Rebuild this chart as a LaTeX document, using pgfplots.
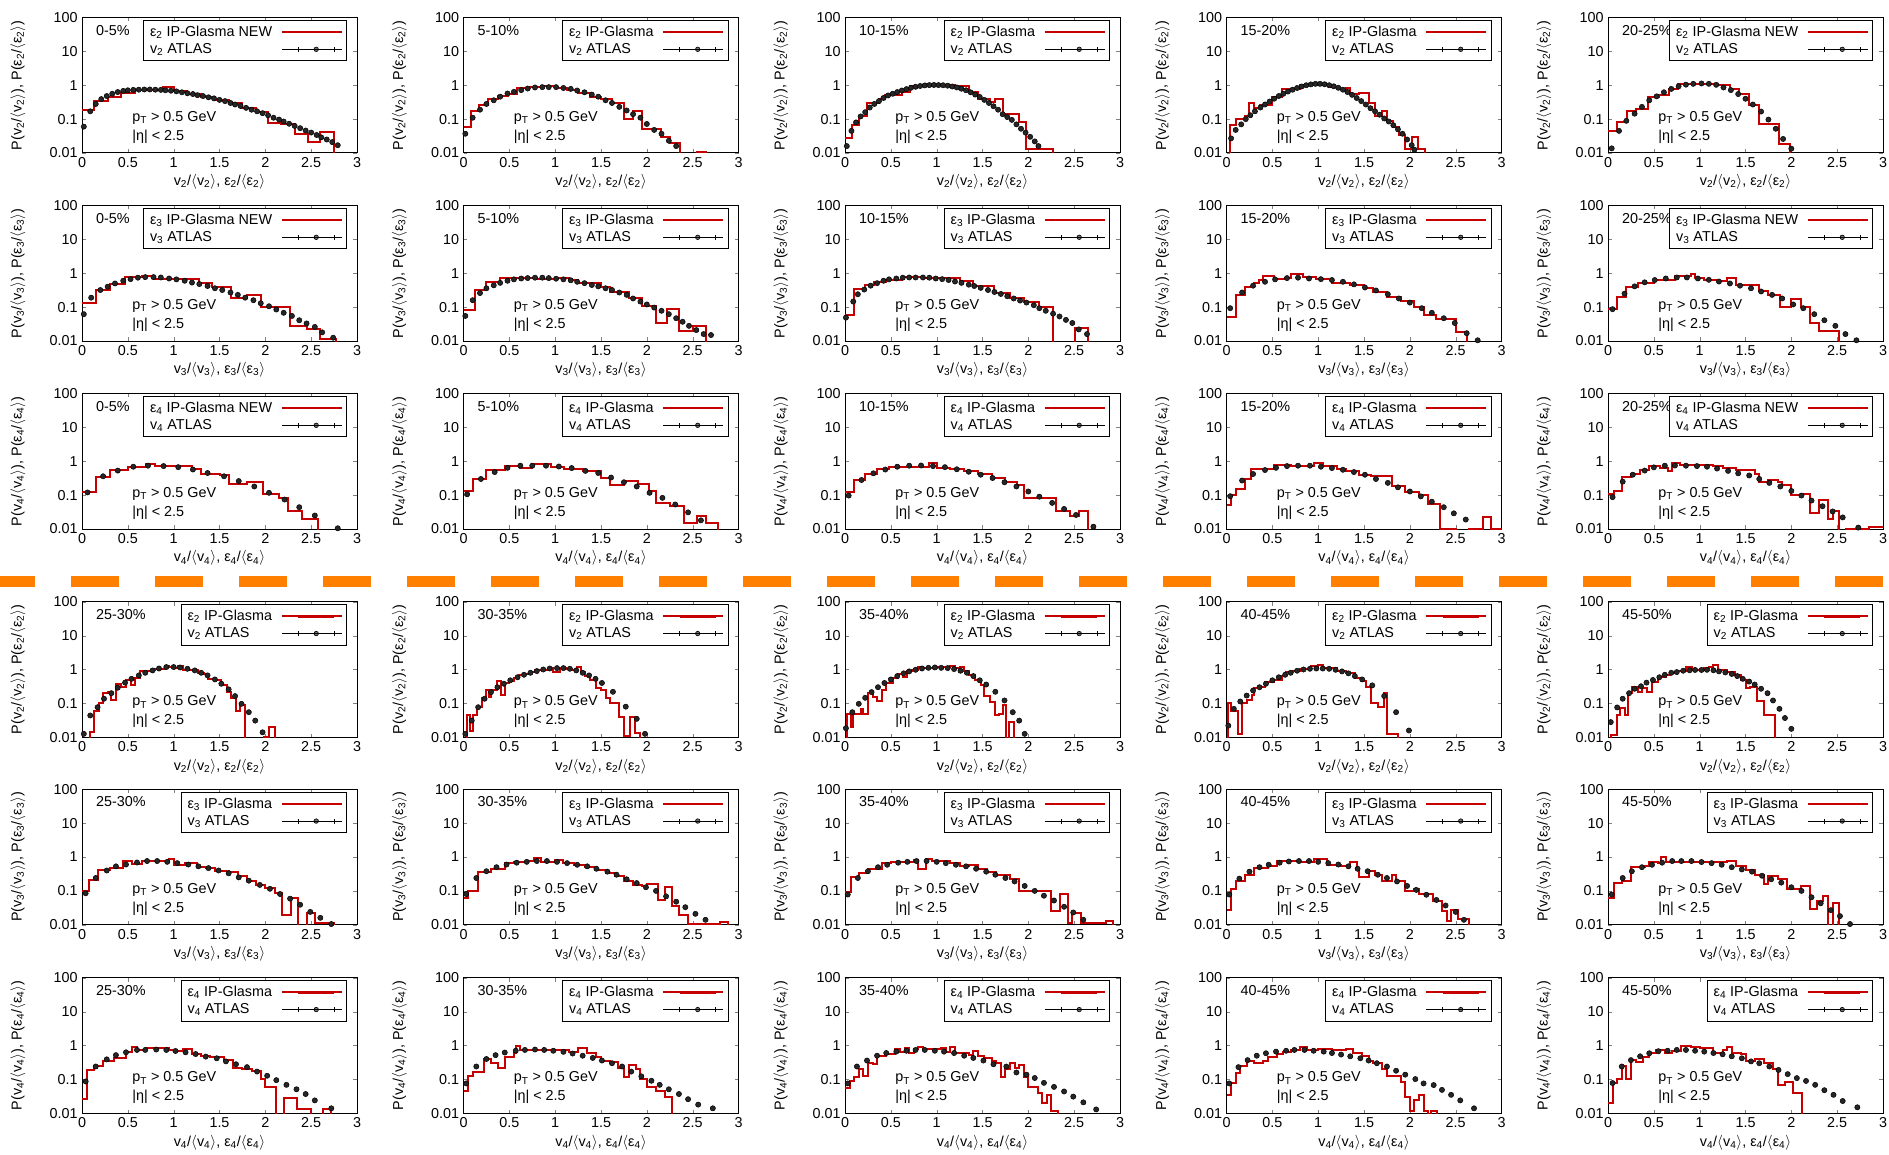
\documentclass[border=0pt,10pt]{standalone}
\usepackage{fontspec}
\setmainfont{Liberation Sans}
\usepackage{pgfplots}
\pgfplotsset{compat=1.18}
\definecolor{hred}{RGB}{198,0,0}
\definecolor{dashorange}{RGB}{255,128,0}
\newcommand{\fnt}{\fontsize{11.5}{13}\selectfont}
\newcommand{\gp}{\hspace*{5pt}}
\newcommand{\xl}[1]{v\textsubscript{#1}/$\langle$v\textsubscript{#1}$\rangle$, ε\textsubscript{#1}/$\langle$ε\textsubscript{#1}$\rangle$}
\newcommand{\yl}[1]{P(v\textsubscript{#1}/$\langle$v\textsubscript{#1}$\rangle$), P(ε\textsubscript{#1}/$\langle$ε\textsubscript{#1}$\rangle$)}
\newcommand{\annot}[1]{%
\node[anchor=base west,font=\fnt] at (rel axis cs:0.035,0.87) {#1};
\node[anchor=base west,font=\fnt] at (rel axis cs:0.167,0.231) {p\textsubscript{T} > 0.5 GeV};
\node[anchor=base west,font=\fnt] at (rel axis cs:0.167,0.091) {|η| < 2.5};}
\pgfplotsset{every axis/.append style={anchor=north west,
 width=220pt,height=108.4pt,scale only axis,
 xmin=0,xmax=3,ymin=0.01,ymax=100,
 xtick={0,0.5,1,1.5,2,2.5,3},xticklabels={0,0.5,1,1.5,2,2.5,3},
 ytick={0.01,0.1,1,10,100},yticklabels={0.01,0.1,1,10,100},
 yminorticks=false,
 tick align=inside,major tick length=3pt,
 axis line style={line width=0.8pt},
 tick label style={font=\fnt},
 label style={font=\fnt},
 xlabel style={at={(axis description cs:0.5,-0.214)},anchor=center},
 ylabel style={at={(axis description cs:-0.233,0.5)},anchor=center},
 legend cell align=left,legend plot pos=right,
 legend style={at={(rel axis cs:0.964,0.982)},anchor=north east,draw=black,line width=0.8pt,fill=white,font=\fnt,inner ysep=2.5pt}}}
\pgfplotsset{histo/.style={hred,line width=1.6pt,const plot mark left,
  legend image code/.code={\draw[hred,line width=1.8pt] (0pt,0pt)--(29pt,0pt);\path (-13pt,0pt)--(35pt,0pt);}},
 atlas/.style={black,only marks,mark=*,mark size=2.1pt,mark options={fill=black!85},
  legend image code/.code={\draw[black,line width=0.6pt] (0pt,0pt)--(29pt,0pt) (0pt,-2pt)--(0pt,2pt) (29pt,-2pt)--(29pt,2pt);\filldraw[fill=black!55,draw=black,line width=0.5pt] (14.5pt,0pt) circle (1.8pt);\path (-13pt,0pt)--(35pt,0pt);}}}
\begin{document}
\begin{tikzpicture}
\useasboundingbox (0pt,0pt) rectangle (1511.2pt,-923.2pt);
% ---------------- Row 1: v2, 0-25%
\begin{semilogyaxis}[at={(65.6pt,-14pt)},xlabel={\xl{2}},ylabel={\yl{2}}]
\addplot[histo] coordinates {(0,0.19)(0.13,0.34)(0.28,0.45)(0.43,0.6)(0.58,0.72)(0.88,0.86)(1.0,0.68)(1.15,0.57)(1.3,0.46)(1.45,0.37)(1.6,0.3)(1.75,0.21)(1.9,0.16)(2.03,0.076)(2.17,0.07)(2.32,0.036)(2.47,0.021)(2.6,0.042)(2.75,0.001)};
\addlegendentry{ε\textsubscript{2} IP-Glasma NEW\gp}
\addplot[atlas] coordinates {(0.02,0.06)(0.09,0.17)(0.15,0.28)(0.21,0.39)(0.27,0.48)(0.33,0.56)(0.39,0.63)(0.45,0.68)(0.5,0.71)(0.56,0.73)(0.62,0.74)(0.68,0.75)(0.74,0.75)(0.8,0.74)(0.86,0.73)(0.91,0.71)(0.97,0.69)(1.03,0.66)(1.09,0.62)(1.15,0.58)(1.21,0.55)(1.26,0.51)(1.32,0.48)(1.38,0.44)(1.44,0.41)(1.5,0.37)(1.56,0.34)(1.62,0.3)(1.67,0.27)(1.73,0.245)(1.79,0.215)(1.85,0.19)(1.91,0.17)(1.97,0.15)(2.03,0.13)(2.09,0.11)(2.15,0.097)(2.2,0.085)(2.26,0.073)(2.32,0.063)(2.38,0.054)(2.44,0.046)(2.5,0.04)(2.56,0.034)(2.61,0.029)(2.67,0.025)(2.73,0.021)(2.79,0.017)};
\addlegendentry{v\textsubscript{2} ATLAS}
\annot{0-5\%}
\end{semilogyaxis}
\begin{semilogyaxis}[at={(370.8pt,-14pt)},xlabel={\xl{2}},ylabel={\yl{2}}]
\addplot[histo] coordinates {(0,0.06)(0.08,0.17)(0.17,0.27)(0.27,0.4)(0.38,0.47)(0.48,0.55)(0.58,0.82)(0.72,0.86)(0.86,0.92)(1.0,0.85)(1.13,0.72)(1.25,0.6)(1.38,0.46)(1.5,0.38)(1.62,0.3)(1.75,0.1)(1.85,0.17)(1.95,0.05)(2.15,0.03)(2.25,0.02)(2.36,0.001)(2.55,0.0104)(2.65,0.001)};
\addlegendentry{ε\textsubscript{2} IP-Glasma\gp}
\addplot[atlas] coordinates {(0.02,0.037)(0.1,0.11)(0.18,0.19)(0.25,0.28)(0.33,0.36)(0.4,0.46)(0.48,0.57)(0.55,0.64)(0.63,0.72)(0.7,0.8)(0.78,0.86)(0.86,0.88)(0.93,0.88)(1.01,0.88)(1.09,0.83)(1.17,0.78)(1.24,0.7)(1.32,0.62)(1.4,0.53)(1.47,0.46)(1.55,0.36)(1.62,0.3)(1.7,0.23)(1.78,0.18)(1.85,0.14)(1.93,0.11)(2.0,0.072)(2.08,0.048)(2.16,0.037)(2.24,0.023)(2.32,0.016)};
\addlegendentry{v\textsubscript{2} ATLAS}
\annot{5-10\%}
\end{semilogyaxis}
\begin{semilogyaxis}[at={(676pt,-14pt)},xlabel={\xl{2}},ylabel={\yl{2}}]
\addplot[histo] coordinates {(0,0.027)(0.08,0.065)(0.15,0.12)(0.24,0.3)(0.37,0.4)(0.44,0.5)(0.52,0.5)(0.62,0.65)(0.71,0.95)(0.85,1.0)(1.2,0.95)(1.35,0.62)(1.45,0.4)(1.58,0.32)(1.64,0.4)(1.72,0.14)(1.8,0.14)(1.9,0.085)(1.97,0.013)(2.27,0.001)};
\addlegendentry{ε\textsubscript{2} IP-Glasma\gp}
\addplot[atlas] coordinates {(0.02,0.016)(0.07,0.045)(0.12,0.08)(0.17,0.12)(0.22,0.16)(0.27,0.22)(0.32,0.28)(0.37,0.34)(0.42,0.42)(0.47,0.5)(0.52,0.56)(0.57,0.63)(0.62,0.7)(0.67,0.77)(0.72,0.84)(0.77,0.9)(0.82,0.95)(0.87,0.99)(0.92,1.01)(0.97,1.02)(1.02,1.01)(1.07,1.0)(1.12,0.97)(1.17,0.92)(1.22,0.86)(1.27,0.79)(1.32,0.71)(1.37,0.62)(1.42,0.53)(1.47,0.45)(1.52,0.37)(1.57,0.3)(1.62,0.24)(1.67,0.19)(1.72,0.14)(1.77,0.115)(1.82,0.095)(1.87,0.07)(1.92,0.052)(1.97,0.04)(2.02,0.03)(2.07,0.022)(2.11,0.016)};
\addlegendentry{v\textsubscript{2} ATLAS}
\annot{10-15\%}
\end{semilogyaxis}
\begin{semilogyaxis}[at={(981.2pt,-14pt)},xlabel={\xl{2}},ylabel={\yl{2}}]
\addplot[histo] coordinates {(0,0.001)(0.04,0.065)(0.1,0.1)(0.2,0.12)(0.24,0.3)(0.3,0.22)(0.36,0.27)(0.5,0.45)(0.6,0.8)(0.7,0.75)(0.8,1.0)(1.0,1.05)(1.12,0.9)(1.2,0.8)(1.3,0.85)(1.35,0.55)(1.45,0.6)(1.55,0.3)(1.62,0.12)(1.7,0.17)(1.75,0.09)(1.82,0.06)(1.88,0.035)(1.95,0.013)(2.02,0.03)(2.09,0.013)(2.17,0.001)};
\addlegendentry{ε\textsubscript{2} IP-Glasma\gp}
\addplot[atlas] coordinates {(0.05,0.027)(0.1,0.048)(0.16,0.07)(0.21,0.1)(0.26,0.13)(0.31,0.17)(0.37,0.22)(0.42,0.27)(0.47,0.33)(0.52,0.4)(0.57,0.48)(0.62,0.56)(0.67,0.65)(0.72,0.74)(0.77,0.83)(0.82,0.92)(0.87,1.0)(0.92,1.06)(0.97,1.1)(1.02,1.1)(1.07,1.07)(1.12,1.0)(1.17,0.93)(1.22,0.84)(1.27,0.74)(1.32,0.63)(1.37,0.52)(1.42,0.42)(1.47,0.34)(1.52,0.27)(1.57,0.21)(1.62,0.17)(1.67,0.135)(1.72,0.105)(1.77,0.085)(1.82,0.066)(1.87,0.05)(1.92,0.037)(1.97,0.025)(2.02,0.017)(2.05,0.0125)};
\addlegendentry{v\textsubscript{2} ATLAS}
\annot{15-20\%}
\end{semilogyaxis}
\begin{semilogyaxis}[at={(1286.4pt,-14pt)},xlabel={\xl{2}},ylabel={\yl{2}}]
\addplot[histo] coordinates {(0,0.045)(0.1,0.085)(0.21,0.17)(0.31,0.2)(0.44,0.45)(0.56,0.5)(0.67,0.8)(0.76,1.1)(1.2,1.05)(1.33,0.75)(1.43,0.55)(1.54,0.27)(1.65,0.07)(1.87,0.018)(1.98,0.001)};
\addlegendentry{ε\textsubscript{2} IP-Glasma NEW\gp}
\addplot[atlas] coordinates {(0.04,0.0137)(0.12,0.045)(0.2,0.089)(0.29,0.145)(0.37,0.23)(0.45,0.36)(0.53,0.47)(0.61,0.62)(0.69,0.78)(0.77,0.93)(0.85,1.04)(0.93,1.1)(1.02,1.13)(1.1,1.1)(1.18,1.03)(1.26,0.86)(1.34,0.72)(1.42,0.55)(1.5,0.4)(1.58,0.27)(1.67,0.167)(1.75,0.097)(1.83,0.052)(1.91,0.026)(2.0,0.0134)};
\addlegendentry{v\textsubscript{2} ATLAS}
\annot{20-25\%}
\end{semilogyaxis}
% ---------------- Row 2: v3, 0-25%
\begin{semilogyaxis}[at={(65.6pt,-164.4pt)},xlabel={\xl{3}},ylabel={\yl{3}}]
\addplot[histo] coordinates {(0,0.13)(0.15,0.33)(0.3,0.47)(0.47,0.75)(0.65,0.82)(0.79,0.7)(1.13,0.68)(1.28,0.5)(1.42,0.38)(1.62,0.18)(1.8,0.23)(1.95,0.1)(2.27,0.028)(2.45,0.022)(2.6,0.0115)(2.77,0.001)};
\addlegendentry{ε\textsubscript{3} IP-Glasma NEW\gp}
\addplot[atlas] coordinates {(0.02,0.062)(0.1,0.19)(0.2,0.32)(0.28,0.4)(0.36,0.5)(0.45,0.6)(0.53,0.67)(0.61,0.74)(0.69,0.77)(0.78,0.77)(0.86,0.75)(0.95,0.7)(1.03,0.66)(1.12,0.6)(1.2,0.53)(1.28,0.48)(1.37,0.42)(1.45,0.36)(1.53,0.32)(1.62,0.27)(1.7,0.23)(1.78,0.19)(1.87,0.16)(1.95,0.13)(2.04,0.106)(2.12,0.085)(2.2,0.068)(2.29,0.055)(2.37,0.041)(2.45,0.033)(2.54,0.026)(2.62,0.018)(2.74,0.0125)};
\addlegendentry{v\textsubscript{3} ATLAS}
\annot{0-5\%}
\end{semilogyaxis}
\begin{semilogyaxis}[at={(370.8pt,-164.4pt)},xlabel={\xl{3}},ylabel={\yl{3}}]
\addplot[histo] coordinates {(0,0.085)(0.12,0.33)(0.25,0.55)(0.4,0.72)(0.55,0.72)(0.8,0.68)(1.0,0.72)(1.15,0.65)(1.25,0.5)(1.5,0.4)(1.6,0.28)(1.8,0.19)(1.95,0.11)(2.1,0.035)(2.22,0.09)(2.35,0.02)(2.5,0.027)(2.65,0.001)};
\addlegendentry{ε\textsubscript{3} IP-Glasma\gp}
\addplot[atlas] coordinates {(0.02,0.055)(0.1,0.16)(0.18,0.26)(0.25,0.36)(0.33,0.44)(0.4,0.52)(0.48,0.6)(0.55,0.66)(0.63,0.7)(0.7,0.72)(0.78,0.74)(0.86,0.74)(0.93,0.72)(1.01,0.69)(1.09,0.66)(1.17,0.62)(1.24,0.56)(1.32,0.51)(1.4,0.45)(1.47,0.41)(1.55,0.36)(1.62,0.32)(1.7,0.27)(1.78,0.23)(1.85,0.18)(1.93,0.146)(2.0,0.12)(2.08,0.097)(2.16,0.078)(2.24,0.062)(2.32,0.047)(2.39,0.037)(2.46,0.028)(2.54,0.021)(2.62,0.016)(2.7,0.015)};
\addlegendentry{v\textsubscript{3} ATLAS}
\annot{5-10\%}
\end{semilogyaxis}
\begin{semilogyaxis}[at={(676pt,-164.4pt)},xlabel={\xl{3}},ylabel={\yl{3}}]
\addplot[histo] coordinates {(0,0.06)(0.1,0.35)(0.22,0.45)(0.32,0.55)(0.45,0.65)(0.62,0.78)(0.85,0.74)(1.25,0.58)(1.4,0.42)(1.63,0.26)(1.8,0.19)(1.95,0.14)(2.12,0.1)(2.27,0.001)(2.51,0.025)(2.65,0.001)};
\addlegendentry{ε\textsubscript{3} IP-Glasma\gp}
\addplot[atlas] coordinates {(0.01,0.049)(0.09,0.146)(0.14,0.24)(0.21,0.33)(0.28,0.43)(0.35,0.51)(0.42,0.6)(0.48,0.66)(0.56,0.7)(0.63,0.74)(0.7,0.75)(0.77,0.75)(0.85,0.75)(0.92,0.74)(0.99,0.7)(1.06,0.67)(1.13,0.63)(1.2,0.57)(1.27,0.52)(1.35,0.46)(1.41,0.42)(1.48,0.37)(1.56,0.32)(1.63,0.28)(1.7,0.245)(1.77,0.21)(1.84,0.18)(1.91,0.156)(1.98,0.136)(2.06,0.114)(2.12,0.093)(2.19,0.078)(2.27,0.064)(2.34,0.053)(2.41,0.042)(2.48,0.034)(2.55,0.022)(2.64,0.016)};
\addlegendentry{v\textsubscript{3} ATLAS}
\annot{10-15\%}
\end{semilogyaxis}
\begin{semilogyaxis}[at={(981.2pt,-164.4pt)},xlabel={\xl{3}},ylabel={\yl{3}}]
\addplot[histo] coordinates {(0,0.05)(0.1,0.23)(0.2,0.38)(0.3,0.5)(0.35,0.62)(0.4,0.82)(0.52,0.7)(0.64,0.72)(0.7,0.92)(0.83,0.8)(0.98,0.68)(1.15,0.52)(1.35,0.45)(1.5,0.37)(1.6,0.28)(1.75,0.2)(1.9,0.15)(2.05,0.1)(2.15,0.06)(2.28,0.045)(2.5,0.018)(2.62,0.001)};
\addlegendentry{ε\textsubscript{3} IP-Glasma\gp}
\addplot[atlas] coordinates {(0.04,0.093)(0.17,0.27)(0.29,0.43)(0.42,0.56)(0.53,0.66)(0.66,0.72)(0.78,0.74)(0.9,0.7)(1.03,0.67)(1.15,0.63)(1.27,0.56)(1.39,0.47)(1.51,0.38)(1.63,0.31)(1.76,0.24)(1.88,0.18)(2.0,0.136)(2.13,0.093)(2.24,0.068)(2.37,0.047)(2.49,0.034)(2.62,0.017)(2.74,0.0105)};
\addlegendentry{v\textsubscript{3} ATLAS}
\annot{15-20\%}
\end{semilogyaxis}
\begin{semilogyaxis}[at={(1286.4pt,-164.4pt)},xlabel={\xl{3}},ylabel={\yl{3}}]
\addplot[histo] coordinates {(0,0.088)(0.1,0.2)(0.2,0.38)(0.33,0.5)(0.5,0.62)(0.73,0.85)(0.9,0.95)(0.95,0.72)(1.05,0.62)(1.2,0.58)(1.3,0.72)(1.4,0.45)(1.65,0.3)(1.75,0.23)(1.88,0.1)(2.0,0.17)(2.1,0.1)(2.2,0.035)(2.3,0.02)(2.52,0.001)};
\addlegendentry{ε\textsubscript{3} IP-Glasma NEW\gp}
\addplot[atlas] coordinates {(0.05,0.087)(0.18,0.25)(0.29,0.41)(0.4,0.54)(0.51,0.63)(0.63,0.7)(0.75,0.75)(0.86,0.75)(0.98,0.7)(1.1,0.64)(1.21,0.57)(1.33,0.5)(1.44,0.43)(1.56,0.36)(1.67,0.29)(1.79,0.23)(1.9,0.18)(2.02,0.12)(2.13,0.093)(2.25,0.062)(2.36,0.041)(2.48,0.028)(2.59,0.016)(2.71,0.0105)};
\addlegendentry{v\textsubscript{3} ATLAS}
\annot{20-25\%}
\end{semilogyaxis}
% ---------------- Row 3: v4, 0-25%
\begin{semilogyaxis}[at={(65.6pt,-314.8pt)},xlabel={\xl{4}},ylabel={\yl{4}}]
\addplot[histo] coordinates {(0,0.12)(0.15,0.34)(0.3,0.55)(0.5,0.68)(0.7,0.85)(0.8,0.72)(1.2,0.6)(1.3,0.42)(1.5,0.4)(1.6,0.22)(1.8,0.24)(1.97,0.11)(2.15,0.08)(2.25,0.035)(2.4,0.02)(2.57,0.001)};
\addlegendentry{ε\textsubscript{4} IP-Glasma NEW\gp}
\addplot[atlas] coordinates {(0.06,0.12)(0.23,0.36)(0.39,0.53)(0.56,0.69)(0.72,0.74)(0.89,0.72)(1.05,0.67)(1.21,0.57)(1.37,0.45)(1.55,0.36)(1.71,0.26)(1.88,0.18)(2.04,0.117)(2.21,0.074)(2.37,0.044)(2.54,0.025)(2.79,0.0105)};
\addlegendentry{v\textsubscript{4} ATLAS}
\annot{0-5\%}
\end{semilogyaxis}
\begin{semilogyaxis}[at={(370.8pt,-314.8pt)},xlabel={\xl{4}},ylabel={\yl{4}}]
\addplot[histo] coordinates {(0,0.13)(0.1,0.3)(0.25,0.55)(0.45,0.72)(0.62,0.62)(0.75,0.85)(0.95,0.7)(1.1,0.6)(1.3,0.5)(1.5,0.32)(1.6,0.2)(1.75,0.26)(1.9,0.22)(2.02,0.13)(2.1,0.06)(2.25,0.048)(2.4,0.015)(2.55,0.025)(2.65,0.015)(2.78,0.001)};
\addlegendentry{ε\textsubscript{4} IP-Glasma\gp}
\addplot[atlas] coordinates {(0.04,0.106)(0.19,0.3)(0.34,0.48)(0.48,0.64)(0.62,0.74)(0.75,0.74)(0.9,0.74)(1.04,0.7)(1.18,0.63)(1.33,0.52)(1.47,0.45)(1.61,0.33)(1.75,0.24)(1.89,0.18)(2.03,0.117)(2.17,0.083)(2.31,0.053)(2.45,0.031)(2.59,0.018)};
\addlegendentry{v\textsubscript{4} ATLAS}
\annot{5-10\%}
\end{semilogyaxis}
\begin{semilogyaxis}[at={(676pt,-314.8pt)},xlabel={\xl{4}},ylabel={\yl{4}}]
\addplot[histo] coordinates {(0,0.12)(0.1,0.28)(0.22,0.42)(0.35,0.58)(0.48,0.7)(0.92,0.9)(1.0,0.65)(1.15,0.6)(1.3,0.5)(1.45,0.42)(1.6,0.32)(1.75,0.25)(1.88,0.2)(1.95,0.085)(2.2,0.08)(2.3,0.035)(2.45,0.025)(2.55,0.035)(2.65,0.001)};
\addlegendentry{ε\textsubscript{4} IP-Glasma\gp}
\addplot[atlas] coordinates {(0.04,0.097)(0.18,0.28)(0.31,0.44)(0.44,0.57)(0.57,0.69)(0.7,0.74)(0.83,0.75)(0.96,0.72)(1.09,0.67)(1.22,0.58)(1.35,0.49)(1.48,0.4)(1.61,0.32)(1.74,0.24)(1.87,0.18)(2.0,0.128)(2.12,0.09)(2.26,0.059)(2.39,0.039)(2.52,0.026)(2.71,0.0117)};
\addlegendentry{v\textsubscript{4} ATLAS}
\annot{10-15\%}
\end{semilogyaxis}
\begin{semilogyaxis}[at={(981.2pt,-314.8pt)},xlabel={\xl{4}},ylabel={\yl{4}}]
\addplot[histo] coordinates {(0,0.05)(0.05,0.1)(0.1,0.15)(0.2,0.3)(0.27,0.6)(0.52,0.8)(0.7,0.72)(0.95,0.9)(1.05,0.72)(1.2,0.6)(1.3,0.5)(1.45,0.38)(1.58,0.36)(1.8,0.18)(1.95,0.12)(2.1,0.1)(2.2,0.055)(2.33,0.0102)(2.5,0.001)(2.65,0.0102)(2.8,0.022)(2.88,0.0102)(3.0,0.0102)};
\addlegendentry{ε\textsubscript{4} IP-Glasma\gp}
\addplot[atlas] coordinates {(0.04,0.093)(0.17,0.27)(0.29,0.42)(0.42,0.55)(0.54,0.64)(0.66,0.72)(0.78,0.74)(0.91,0.74)(1.03,0.69)(1.15,0.63)(1.27,0.56)(1.39,0.48)(1.51,0.4)(1.63,0.3)(1.76,0.23)(1.87,0.17)(2.0,0.128)(2.12,0.092)(2.24,0.064)(2.37,0.044)(2.48,0.029)(2.61,0.019)};
\addlegendentry{v\textsubscript{4} ATLAS}
\annot{15-20\%}
\end{semilogyaxis}
\begin{semilogyaxis}[at={(1286.4pt,-314.8pt)},xlabel={\xl{4}},ylabel={\yl{4}}]
\addplot[histo] coordinates {(0,0.11)(0.07,0.13)(0.15,0.35)(0.25,0.42)(0.35,0.55)(0.45,0.72)(0.57,0.65)(0.65,0.5)(0.7,0.9)(0.78,0.8)(1.15,0.72)(1.25,0.65)(1.4,0.55)(1.5,0.55)(1.6,0.42)(1.65,0.25)(1.75,0.28)(1.85,0.24)(1.9,0.2)(2.0,0.1)(2.1,0.11)(2.2,0.03)(2.3,0.07)(2.4,0.02)(2.45,0.035)(2.52,0.001)(2.6,0.0102)(2.72,0.0102)(2.85,0.0115)(3.0,0.0115)};
\addlegendentry{ε\textsubscript{4} IP-Glasma NEW\gp}
\addplot[atlas] coordinates {(0.05,0.087)(0.16,0.25)(0.27,0.4)(0.4,0.53)(0.5,0.66)(0.62,0.74)(0.73,0.75)(0.85,0.74)(0.97,0.72)(1.08,0.69)(1.19,0.61)(1.31,0.52)(1.42,0.44)(1.54,0.38)(1.65,0.3)(1.76,0.23)(1.88,0.18)(2.0,0.133)(2.11,0.097)(2.22,0.069)(2.34,0.047)(2.45,0.033)(2.56,0.022)(2.73,0.011)};
\addlegendentry{v\textsubscript{4} ATLAS}
\annot{20-25\%}
\end{semilogyaxis}
% ---------------- separator
\draw[dashorange,line width=8.8pt,dash pattern=on 38.4pt off 28.8pt] (-10.4pt,-464.8pt) -- (1515pt,-464.8pt);
% ---------------- Row 4: v2, 25-50%
\begin{semilogyaxis}[at={(65.6pt,-481.4pt)},xlabel={\xl{2}},ylabel={\yl{2}}]
\addplot[histo] coordinates {(0,0.001)(0.09,0.014)(0.13,0.06)(0.18,0.1)(0.23,0.2)(0.28,0.22)(0.32,0.13)(0.37,0.38)(0.42,0.3)(0.48,0.48)(0.53,0.36)(0.58,0.55)(0.63,0.9)(0.68,0.92)(0.75,1.0)(0.8,1.02)(0.85,1.05)(0.9,1.3)(0.95,1.15)(1.0,1.1)(1.05,1.3)(1.1,1.0)(1.15,1.0)(1.2,0.95)(1.27,0.8)(1.33,0.75)(1.37,0.52)(1.45,0.48)(1.52,0.36)(1.58,0.22)(1.63,0.14)(1.68,0.06)(1.72,0.09)(1.78,0.001)(1.98,0.0102)(2.04,0.02)(2.1,0.001)};
\addlegendentry{ε\textsubscript{2} IP-Glasma\gp}
\addplot[atlas] coordinates {(0.02,0.0126)(0.09,0.044)(0.17,0.077)(0.24,0.137)(0.32,0.2)(0.39,0.29)(0.47,0.41)(0.54,0.53)(0.62,0.67)(0.69,0.8)(0.77,0.94)(0.84,1.07)(0.92,1.18)(1.0,1.18)(1.07,1.15)(1.15,1.05)(1.23,0.94)(1.3,0.8)(1.37,0.67)(1.45,0.51)(1.52,0.38)(1.6,0.26)(1.67,0.164)(1.74,0.097)(1.82,0.055)(1.89,0.031)(1.97,0.014)};
\addlegendentry{v\textsubscript{2} ATLAS}
\annot{25-30\%}
\end{semilogyaxis}
\begin{semilogyaxis}[at={(370.8pt,-481.4pt)},xlabel={\xl{2}},ylabel={\yl{2}}]
\addplot[histo] coordinates {(0,0.001)(0.04,0.045)(0.07,0.015)(0.1,0.045)(0.15,0.08)(0.2,0.14)(0.24,0.25)(0.28,0.15)(0.3,0.25)(0.37,0.45)(0.41,0.18)(0.45,0.4)(0.5,0.45)(0.55,0.55)(0.6,0.7)(0.65,0.75)(0.72,0.85)(0.78,0.95)(0.88,1.0)(0.93,1.1)(0.98,0.85)(1.05,1.1)(1.12,1.05)(1.18,1.0)(1.24,1.2)(1.28,0.85)(1.33,0.65)(1.38,0.5)(1.45,0.28)(1.5,0.25)(1.55,0.14)(1.6,0.1)(1.7,0.04)(1.75,0.011)(1.82,0.04)(1.87,0.013)(1.92,0.001)};
\addlegendentry{ε\textsubscript{2} IP-Glasma\gp}
\addplot[atlas] coordinates {(0.02,0.0126)(0.09,0.031)(0.16,0.077)(0.23,0.137)(0.3,0.215)(0.37,0.3)(0.44,0.38)(0.51,0.48)(0.59,0.59)(0.66,0.7)(0.73,0.8)(0.8,0.9)(0.87,1.0)(0.94,1.07)(1.02,1.1)(1.09,1.1)(1.16,1.05)(1.23,0.94)(1.3,0.8)(1.37,0.67)(1.44,0.53)(1.51,0.4)(1.63,0.22)(1.77,0.08)(1.89,0.035)(1.98,0.0126)};
\addlegendentry{v\textsubscript{2} ATLAS}
\annot{30-35\%}
\end{semilogyaxis}
\begin{semilogyaxis}[at={(676pt,-481.4pt)},xlabel={\xl{2}},ylabel={\yl{2}}]
\addplot[histo] coordinates {(0,0.001)(0.02,0.048)(0.06,0.02)(0.09,0.05)(0.12,0.048)(0.17,0.07)(0.2,0.048)(0.25,0.2)(0.3,0.15)(0.35,0.12)(0.4,0.25)(0.45,0.4)(0.52,0.55)(0.58,0.75)(0.63,0.6)(0.68,0.9)(0.73,0.95)(0.8,1.15)(0.85,1.1)(0.9,1.12)(1.0,1.15)(1.1,1.2)(1.15,1.25)(1.2,1.1)(1.25,1.2)(1.3,0.9)(1.35,0.7)(1.42,0.5)(1.48,0.35)(1.52,0.17)(1.58,0.11)(1.64,0.045)(1.68,0.048)(1.72,0.09)(1.76,0.001)(1.79,0.028)(1.84,0.001)};
\addlegendentry{ε\textsubscript{2} IP-Glasma\gp}
\addplot[atlas] coordinates {(0.01,0.0185)(0.08,0.055)(0.15,0.097)(0.22,0.146)(0.29,0.215)(0.36,0.3)(0.43,0.4)(0.5,0.51)(0.57,0.64)(0.64,0.77)(0.7,0.88)(0.77,0.98)(0.84,1.07)(0.91,1.12)(0.98,1.15)(1.05,1.12)(1.12,1.1)(1.19,1.03)(1.26,0.92)(1.33,0.8)(1.4,0.64)(1.47,0.48)(1.54,0.36)(1.64,0.22)(1.74,0.122)(1.83,0.055)(1.9,0.031)(1.96,0.0126)};
\addlegendentry{v\textsubscript{2} ATLAS}
\annot{35-40\%}
\end{semilogyaxis}
\begin{semilogyaxis}[at={(981.2pt,-481.4pt)},xlabel={\xl{2}},ylabel={\yl{2}}]
\addplot[histo] coordinates {(0,0.001)(0.02,0.1)(0.05,0.06)(0.12,0.0125)(0.17,0.1)(0.22,0.13)(0.28,0.18)(0.3,0.28)(0.38,0.3)(0.42,0.42)(0.52,0.5)(0.6,0.65)(0.65,0.85)(0.72,0.9)(0.8,1.05)(0.92,1.3)(0.98,1.15)(1.0,1.35)(1.05,1.1)(1.2,0.9)(1.3,0.78)(1.4,0.55)(1.48,0.45)(1.52,0.3)(1.58,0.1)(1.65,0.08)(1.72,0.2)(1.75,0.0125)(1.87,0.001)};
\addlegendentry{ε\textsubscript{2} IP-Glasma\gp}
\addplot[atlas] coordinates {(0.02,0.022)(0.08,0.069)(0.15,0.114)(0.22,0.17)(0.29,0.24)(0.36,0.3)(0.43,0.38)(0.5,0.48)(0.57,0.59)(0.64,0.7)(0.7,0.8)(0.77,0.92)(0.84,1.0)(0.91,1.05)(0.98,1.07)(1.05,1.07)(1.12,1.05)(1.19,0.98)(1.26,0.88)(1.33,0.77)(1.4,0.64)(1.48,0.51)(1.59,0.34)(1.72,0.165)(1.85,0.055)(1.99,0.0158)};
\addlegendentry{v\textsubscript{2} ATLAS}
\annot{40-45\%}
\end{semilogyaxis}
\begin{semilogyaxis}[at={(1286.4pt,-481.4pt)},xlabel={\xl{2}},ylabel={\yl{2}}]
\addplot[histo] coordinates {(0,0.001)(0.035,0.012)(0.1,0.045)(0.13,0.075)(0.18,0.045)(0.22,0.2)(0.26,0.3)(0.33,0.22)(0.37,0.28)(0.42,0.22)(0.48,0.42)(0.55,0.6)(0.63,0.7)(0.68,0.8)(0.75,0.9)(0.85,1.15)(0.92,1.0)(1.05,1.1)(1.1,1.15)(1.15,1.4)(1.2,0.95)(1.3,0.85)(1.38,0.7)(1.45,0.5)(1.5,0.28)(1.55,0.3)(1.62,0.12)(1.7,0.045)(1.82,0.001)};
\addlegendentry{ε\textsubscript{2} IP-Glasma\gp}
\addplot[atlas] coordinates {(0.03,0.028)(0.1,0.076)(0.16,0.137)(0.23,0.2)(0.29,0.27)(0.36,0.32)(0.42,0.41)(0.49,0.49)(0.56,0.59)(0.62,0.7)(0.69,0.8)(0.75,0.84)(0.82,0.92)(0.89,0.95)(0.95,0.97)(1.02,0.97)(1.08,0.98)(1.15,0.95)(1.21,0.88)(1.28,0.82)(1.35,0.74)(1.41,0.64)(1.47,0.53)(1.54,0.44)(1.6,0.36)(1.67,0.27)(1.74,0.2)(1.8,0.122)(1.87,0.069)(1.93,0.037)(2.0,0.0177)};
\addlegendentry{v\textsubscript{2} ATLAS}
\annot{45-50\%}
\end{semilogyaxis}
% ---------------- Row 5: v3, 25-50%
\begin{semilogyaxis}[at={(65.6pt,-631.4pt)},xlabel={\xl{3}},ylabel={\yl{3}}]
\addplot[histo] coordinates {(0,0.1)(0.08,0.21)(0.17,0.42)(0.3,0.48)(0.45,0.75)(0.55,0.62)(0.65,0.75)(0.75,0.78)(0.95,0.9)(1.0,0.58)(1.12,0.65)(1.25,0.5)(1.35,0.48)(1.45,0.38)(1.6,0.35)(1.7,0.27)(1.8,0.2)(1.9,0.15)(2.0,0.12)(2.1,0.085)(2.18,0.02)(2.28,0.06)(2.36,0.001)(2.45,0.022)(2.54,0.011)(2.75,0.001)};
\addlegendentry{ε\textsubscript{3} IP-Glasma\gp}
\addplot[atlas] coordinates {(0.04,0.085)(0.15,0.24)(0.27,0.4)(0.37,0.53)(0.48,0.6)(0.6,0.69)(0.71,0.76)(0.82,0.76)(0.93,0.72)(1.04,0.66)(1.16,0.6)(1.27,0.53)(1.38,0.47)(1.49,0.4)(1.6,0.33)(1.71,0.25)(1.82,0.2)(1.94,0.15)(2.05,0.115)(2.16,0.081)(2.27,0.059)(2.38,0.039)(2.49,0.024)(2.6,0.016)(2.72,0.0105)};
\addlegendentry{v\textsubscript{3} ATLAS}
\annot{25-30\%}
\end{semilogyaxis}
\begin{semilogyaxis}[at={(370.8pt,-631.4pt)},xlabel={\xl{3}},ylabel={\yl{3}}]
\addplot[histo] coordinates {(0,0.06)(0.05,0.1)(0.16,0.35)(0.3,0.45)(0.45,0.65)(0.55,0.72)(0.7,0.75)(0.77,0.92)(0.85,0.72)(1.0,0.82)(1.08,0.68)(1.2,0.58)(1.32,0.5)(1.45,0.42)(1.55,0.33)(1.65,0.27)(1.75,0.2)(1.85,0.15)(1.95,0.14)(2.0,0.16)(2.12,0.055)(2.2,0.13)(2.27,0.035)(2.35,0.02)(2.45,0.0102)(2.8,0.012)(2.88,0.001)};
\addlegendentry{ε\textsubscript{3} IP-Glasma\gp}
\addplot[atlas] coordinates {(0.03,0.081)(0.14,0.24)(0.25,0.38)(0.36,0.5)(0.47,0.6)(0.58,0.68)(0.69,0.72)(0.8,0.76)(0.91,0.76)(1.02,0.72)(1.13,0.66)(1.24,0.59)(1.35,0.53)(1.45,0.45)(1.57,0.37)(1.67,0.3)(1.78,0.22)(1.89,0.17)(1.99,0.128)(2.1,0.1)(2.21,0.069)(2.32,0.048)(2.42,0.033)(2.53,0.021)(2.64,0.014)};
\addlegendentry{v\textsubscript{3} ATLAS}
\annot{30-35\%}
\end{semilogyaxis}
\begin{semilogyaxis}[at={(676pt,-631.4pt)},xlabel={\xl{3}},ylabel={\yl{3}}]
\addplot[histo] coordinates {(0,0.09)(0.07,0.25)(0.15,0.33)(0.25,0.45)(0.4,0.65)(0.5,0.7)(0.6,0.72)(0.75,0.8)(0.8,0.45)(0.88,0.88)(0.95,0.75)(1.15,0.65)(1.25,0.55)(1.35,0.6)(1.45,0.45)(1.55,0.35)(1.65,0.3)(1.8,0.22)(1.9,0.1)(2.2,0.1)(2.25,0.025)(2.35,0.08)(2.43,0.011)(2.48,0.022)(2.57,0.011)(2.85,0.013)(2.92,0.001)};
\addlegendentry{ε\textsubscript{3} IP-Glasma\gp}
\addplot[atlas] coordinates {(0.03,0.078)(0.14,0.24)(0.25,0.38)(0.36,0.5)(0.46,0.59)(0.58,0.68)(0.68,0.72)(0.78,0.76)(0.89,0.76)(1.0,0.72)(1.1,0.66)(1.21,0.59)(1.32,0.53)(1.43,0.45)(1.54,0.37)(1.64,0.3)(1.75,0.24)(1.85,0.19)(1.96,0.14)(2.07,0.1)(2.17,0.072)(2.28,0.052)(2.39,0.034)(2.49,0.023)(2.6,0.014)};
\addlegendentry{v\textsubscript{3} ATLAS}
\annot{35-40\%}
\end{semilogyaxis}
\begin{semilogyaxis}[at={(981.2pt,-631.4pt)},xlabel={\xl{3}},ylabel={\yl{3}}]
\addplot[histo] coordinates {(0,0.027)(0.05,0.11)(0.1,0.2)(0.2,0.3)(0.3,0.48)(0.45,0.55)(0.55,0.78)(0.8,0.72)(0.95,0.85)(1.1,0.6)(1.25,0.55)(1.35,0.72)(1.42,0.45)(1.45,0.25)(1.55,0.38)(1.62,0.3)(1.7,0.2)(1.8,0.3)(1.85,0.19)(1.95,0.1)(2.05,0.11)(2.1,0.08)(2.25,0.05)(2.35,0.025)(2.4,0.013)(2.45,0.028)(2.52,0.015)(2.65,0.001)};
\addlegendentry{ε\textsubscript{3} IP-Glasma\gp}
\addplot[atlas] coordinates {(0.03,0.078)(0.14,0.23)(0.25,0.37)(0.36,0.5)(0.46,0.59)(0.58,0.68)(0.68,0.74)(0.79,0.76)(0.9,0.76)(1.0,0.72)(1.11,0.66)(1.22,0.6)(1.33,0.53)(1.43,0.45)(1.54,0.38)(1.65,0.3)(1.75,0.24)(1.86,0.19)(1.97,0.14)(2.07,0.107)(2.18,0.077)(2.29,0.054)(2.39,0.037)(2.5,0.024)(2.59,0.014)};
\addlegendentry{v\textsubscript{3} ATLAS}
\annot{40-45\%}
\end{semilogyaxis}
\begin{semilogyaxis}[at={(1286.4pt,-631.4pt)},xlabel={\xl{3}},ylabel={\yl{3}}]
\addplot[histo] coordinates {(0,0.06)(0.07,0.17)(0.15,0.2)(0.25,0.5)(0.4,0.55)(0.45,0.7)(0.55,0.65)(0.58,1.0)(0.63,0.72)(1.3,0.75)(1.4,0.55)(1.5,0.42)(1.6,0.3)(1.7,0.16)(1.75,0.27)(1.85,0.22)(1.95,0.11)(2.1,0.14)(2.2,0.03)(2.28,0.05)(2.35,0.07)(2.4,0.001)(2.45,0.045)(2.52,0.001)};
\addlegendentry{ε\textsubscript{3} IP-Glasma\gp}
\addplot[atlas] coordinates {(0.04,0.078)(0.16,0.24)(0.26,0.38)(0.37,0.5)(0.48,0.59)(0.59,0.68)(0.7,0.76)(0.8,0.76)(0.91,0.76)(1.02,0.71)(1.13,0.66)(1.24,0.59)(1.35,0.5)(1.46,0.43)(1.57,0.37)(1.68,0.28)(1.78,0.22)(1.89,0.175)(2.0,0.128)(2.11,0.1)(2.22,0.065)(2.32,0.043)(2.43,0.027)(2.53,0.018)(2.64,0.0105)};
\addlegendentry{v\textsubscript{3} ATLAS}
\annot{45-50\%}
\end{semilogyaxis}
% ---------------- Row 6: v4, 25-50%
\begin{semilogyaxis}[at={(65.6pt,-782.2pt)},xlabel={\xl{4}},ylabel={\yl{4}}]
\addplot[histo] coordinates {(0,0.027)(0.05,0.19)(0.13,0.25)(0.23,0.35)(0.35,0.42)(0.48,0.65)(0.55,0.9)(0.6,0.72)(0.7,0.85)(0.95,0.75)(1.0,0.7)(1.1,0.8)(1.2,0.55)(1.3,0.5)(1.4,0.45)(1.55,0.38)(1.65,0.22)(1.75,0.2)(1.85,0.18)(1.95,0.1)(2.0,0.06)(2.12,0.001)(2.2,0.028)(2.35,0.013)(2.5,0.001)(2.63,0.013)(2.72,0.001)};
\addlegendentry{ε\textsubscript{4} IP-Glasma\gp}
\addplot[atlas] coordinates {(0.04,0.087)(0.15,0.24)(0.27,0.39)(0.37,0.52)(0.48,0.63)(0.6,0.74)(0.69,0.74)(0.81,0.76)(0.92,0.74)(1.02,0.69)(1.13,0.63)(1.24,0.56)(1.35,0.47)(1.47,0.42)(1.57,0.34)(1.68,0.28)(1.8,0.23)(1.91,0.17)(2.02,0.128)(2.12,0.095)(2.23,0.069)(2.34,0.051)(2.44,0.037)(2.54,0.024)(2.72,0.014)};
\addlegendentry{v\textsubscript{4} ATLAS}
\annot{25-30\%}
\end{semilogyaxis}
\begin{semilogyaxis}[at={(370.8pt,-782.2pt)},xlabel={\xl{4}},ylabel={\yl{4}}]
\addplot[histo] coordinates {(0,0.045)(0.05,0.13)(0.1,0.17)(0.22,0.4)(0.3,0.3)(0.38,0.22)(0.45,0.45)(0.55,0.6)(0.57,0.95)(0.62,0.72)(0.95,0.75)(1.15,0.65)(1.25,0.85)(1.35,0.6)(1.45,0.45)(1.5,0.35)(1.6,0.32)(1.68,0.22)(1.75,0.12)(1.8,0.27)(1.88,0.2)(1.92,0.1)(2.0,0.06)(2.1,0.045)(2.2,0.03)(2.27,0.001)};
\addlegendentry{ε\textsubscript{4} IP-Glasma\gp}
\addplot[atlas] coordinates {(0.03,0.076)(0.14,0.24)(0.25,0.4)(0.35,0.52)(0.45,0.62)(0.57,0.7)(0.67,0.74)(0.78,0.76)(0.88,0.74)(0.98,0.7)(1.09,0.65)(1.19,0.58)(1.3,0.5)(1.41,0.43)(1.51,0.36)(1.62,0.3)(1.73,0.24)(1.83,0.17)(1.94,0.123)(2.05,0.091)(2.14,0.069)(2.24,0.051)(2.35,0.037)(2.45,0.026)(2.56,0.018)(2.72,0.014)};
\addlegendentry{v\textsubscript{4} ATLAS}
\annot{30-35\%}
\end{semilogyaxis}
\begin{semilogyaxis}[at={(676pt,-782.2pt)},xlabel={\xl{4}},ylabel={\yl{4}}]
\addplot[histo] coordinates {(0,0.055)(0.05,0.09)(0.1,0.12)(0.15,0.2)(0.2,0.13)(0.25,0.3)(0.3,0.28)(0.35,0.5)(0.45,0.55)(0.55,0.78)(0.6,0.65)(0.65,0.85)(0.7,0.6)(0.75,0.8)(0.8,0.92)(0.85,0.8)(1.05,0.85)(1.1,0.65)(1.15,0.88)(1.2,0.6)(1.3,0.62)(1.35,0.52)(1.4,0.7)(1.45,0.5)(1.52,0.42)(1.6,0.35)(1.65,0.3)(1.7,0.12)(1.75,0.2)(1.8,0.3)(1.85,0.22)(1.9,0.26)(1.95,0.12)(2.0,0.06)(2.1,0.04)(2.15,0.02)(2.2,0.035)(2.25,0.012)(2.32,0.001)};
\addlegendentry{ε\textsubscript{4} IP-Glasma\gp}
\addplot[atlas] coordinates {(0.03,0.076)(0.13,0.24)(0.24,0.36)(0.35,0.5)(0.45,0.6)(0.56,0.66)(0.67,0.7)(0.77,0.74)(0.87,0.74)(0.98,0.7)(1.08,0.66)(1.19,0.6)(1.3,0.5)(1.4,0.43)(1.51,0.36)(1.62,0.28)(1.76,0.24)(1.87,0.16)(1.98,0.138)(2.07,0.11)(2.17,0.079)(2.28,0.06)(2.39,0.044)(2.49,0.031)(2.6,0.021)(2.74,0.013)};
\addlegendentry{v\textsubscript{4} ATLAS}
\annot{35-40\%}
\end{semilogyaxis}
\begin{semilogyaxis}[at={(981.2pt,-782.2pt)},xlabel={\xl{4}},ylabel={\yl{4}}]
\addplot[histo] coordinates {(0,0.035)(0.05,0.08)(0.1,0.15)(0.15,0.25)(0.22,0.35)(0.3,0.3)(0.4,0.35)(0.45,0.45)(0.55,0.55)(0.62,0.65)(0.7,0.75)(0.8,0.9)(0.88,0.72)(1.0,0.78)(1.15,0.75)(1.3,0.78)(1.38,0.62)(1.48,0.5)(1.55,0.35)(1.6,0.3)(1.7,0.2)(1.75,0.13)(1.9,0.085)(1.95,0.03)(2.0,0.012)(2.05,0.025)(2.1,0.035)(2.15,0.012)(2.2,0.001)(2.23,0.012)(2.3,0.001)};
\addlegendentry{ε\textsubscript{4} IP-Glasma\gp}
\addplot[atlas] coordinates {(0.03,0.076)(0.13,0.23)(0.23,0.37)(0.33,0.5)(0.43,0.59)(0.54,0.66)(0.65,0.7)(0.74,0.74)(0.85,0.74)(0.95,0.7)(1.06,0.66)(1.15,0.6)(1.25,0.54)(1.35,0.48)(1.46,0.42)(1.55,0.36)(1.64,0.3)(1.75,0.24)(1.85,0.18)(1.95,0.138)(2.06,0.102)(2.15,0.076)(2.26,0.068)(2.35,0.049)(2.45,0.035)(2.55,0.024)(2.7,0.014)};
\addlegendentry{v\textsubscript{4} ATLAS}
\annot{40-45\%}
\end{semilogyaxis}
\begin{semilogyaxis}[at={(1286.4pt,-782.2pt)},xlabel={\xl{4}},ylabel={\yl{4}}]
\addplot[histo] coordinates {(0,0.02)(0.05,0.08)(0.1,0.1)(0.15,0.25)(0.2,0.1)(0.25,0.38)(0.3,0.32)(0.38,0.45)(0.45,0.62)(0.52,0.75)(0.62,0.62)(0.7,0.7)(0.8,0.95)(0.9,0.88)(1.0,0.85)(1.15,0.6)(1.25,0.75)(1.3,0.9)(1.35,0.6)(1.45,0.55)(1.5,0.35)(1.6,0.4)(1.7,0.3)(1.8,0.2)(1.85,0.07)(1.93,0.085)(2.02,0.04)(2.12,0.001)};
\addlegendentry{ε\textsubscript{4} IP-Glasma\gp}
\addplot[atlas] coordinates {(0.05,0.078)(0.15,0.24)(0.25,0.37)(0.35,0.48)(0.45,0.59)(0.55,0.68)(0.65,0.7)(0.75,0.74)(0.85,0.74)(0.95,0.7)(1.05,0.66)(1.15,0.6)(1.25,0.55)(1.35,0.48)(1.46,0.42)(1.56,0.34)(1.65,0.3)(1.76,0.24)(1.86,0.19)(1.96,0.143)(2.06,0.109)(2.16,0.09)(2.26,0.069)(2.36,0.048)(2.46,0.035)(2.56,0.023)(2.72,0.015)};
\addlegendentry{v\textsubscript{4} ATLAS}
\annot{45-50\%}
\end{semilogyaxis}
\end{tikzpicture}
\end{document}
